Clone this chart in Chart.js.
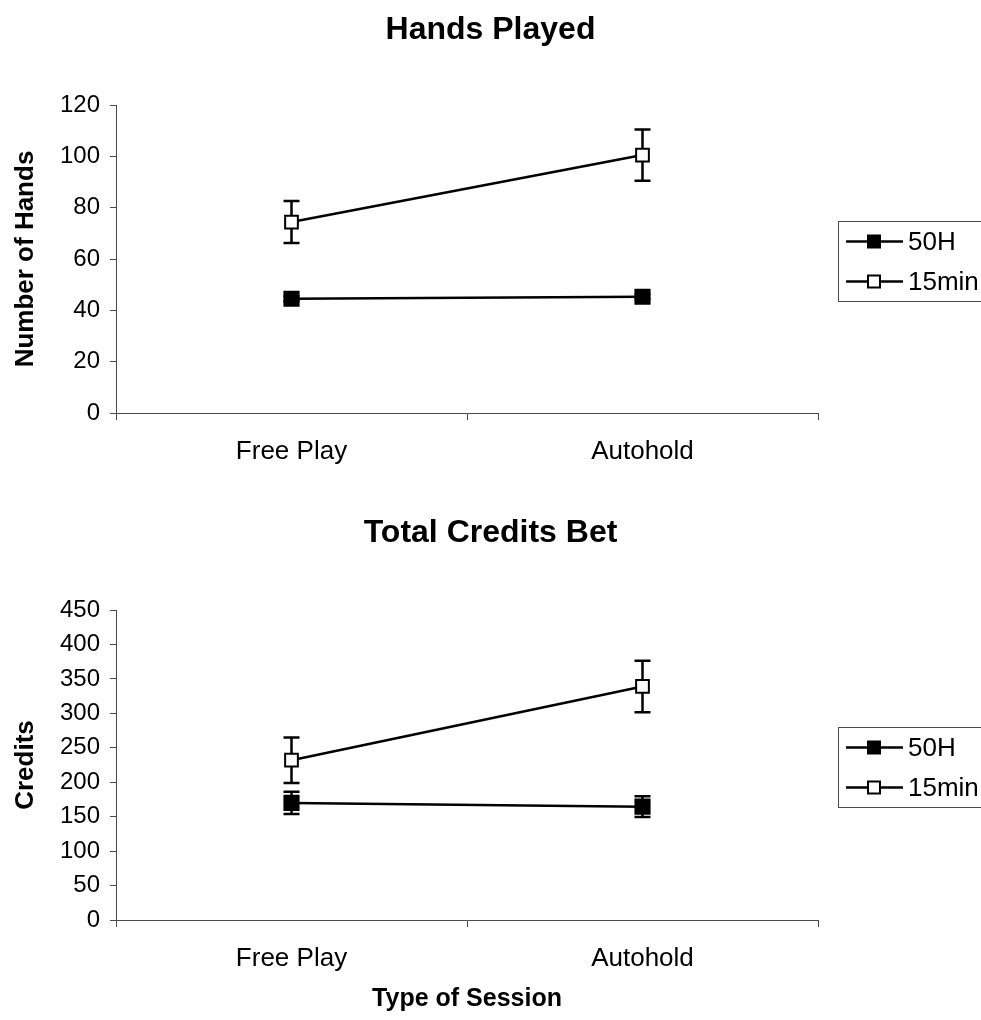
<!DOCTYPE html>
<html>
<head>
<meta charset="utf-8">
<title>Hands Played and Total Credits Bet</title>
<script src="https://cdn.jsdelivr.net/npm/chart.js@4.4.1/dist/chart.umd.min.js"></script>
<style>
  html, body { margin: 0; padding: 0; background: #fff; }
  #wrap { position: relative; width: 981px; height: 1020px; overflow: hidden; }
  canvas { position: absolute; left: 0; }
  #handsCanvas { top: 0; }
  #creditsCanvas { top: 500px; }
</style>
</head>
<body>
<div id="wrap">
  <canvas id="handsCanvas" width="981" height="500"></canvas>
  <canvas id="creditsCanvas" width="981" height="520"></canvas>
</div>
<script>
// Session types on the x axis
const sessions = ['Free Play', 'Autohold'];
const seriesNames = ['50H', '15min'];

// Hands played (means and error margins)
const hands50H = [44.5, 45.3];
const hands50HErr = [1, 1];
const hands15min = [74.4, 100.5];
const hands15minErr = [8.2, 10];

// Total credits bet (means and error margins)
const credits50H = [170, 164.5];
const credits50HErr = [16, 15];
const credits15min = [232, 339];
const credits15minErr = [33, 37.5];

// Axis ranges
const handsAxis = { min: 0, max: 120, step: 20 };
const creditsAxis = { min: 0, max: 450, step: 50 };

const FONT = '"Liberation Sans", Arial, Helvetica, sans-serif';
const AXIS_COLOR = '#4a4a4a';

// Vertical error bars with caps, drawn beneath the markers
const errorBars = {
  id: 'errorBars',
  beforeDatasetsDraw(chart) {
    const ctx = chart.ctx;
    const y = chart.scales.y;
    ctx.save();
    ctx.strokeStyle = '#000';
    ctx.lineWidth = 2.5;
    chart.data.datasets.forEach((ds, i) => {
      const meta = chart.getDatasetMeta(i);
      meta.data.forEach((pt, j) => {
        const e = ds.errors[j];
        if (!e) return;
        const top = y.getPixelForValue(ds.data[j] + e);
        const bot = y.getPixelForValue(ds.data[j] - e);
        const x = pt.x;
        ctx.beginPath();
        ctx.moveTo(x, top); ctx.lineTo(x, bot);
        ctx.moveTo(x - 8, top); ctx.lineTo(x + 8, top);
        ctx.moveTo(x - 8, bot); ctx.lineTo(x + 8, bot);
        ctx.stroke();
      });
    });
    ctx.restore();
  }
};

// Boxed legend placed to the right of the plot, centred on it vertically
const boxLegend = {
  id: 'boxLegend',
  afterDraw(chart) {
    const ctx = chart.ctx;
    const area = chart.chartArea;
    const mid = (area.top + area.bottom) / 2 + 2;
    const bx = 838.5, bw = 160, bh = 80;
    const by = Math.round(mid - bh / 2) + 0.5;
    ctx.save();
    ctx.strokeStyle = AXIS_COLOR;
    ctx.lineWidth = 1;
    ctx.strokeRect(bx, by, bw, bh);
    chart.data.datasets.forEach((ds, i) => {
      const cy = by + 20 + i * 40;
      ctx.strokeStyle = '#000';
      ctx.lineWidth = 2.5;
      ctx.beginPath();
      ctx.moveTo(846, cy); ctx.lineTo(903, cy);
      ctx.stroke();
      const s = 12;
      ctx.fillStyle = ds.pointBackgroundColor;
      ctx.fillRect(874 - s / 2, cy - s / 2, s, s);
      ctx.lineWidth = 2;
      ctx.strokeRect(874 - s / 2, cy - s / 2, s, s);
      ctx.fillStyle = '#000';
      ctx.font = '26px ' + FONT;
      ctx.textAlign = 'left';
      ctx.textBaseline = 'middle';
      ctx.fillText(ds.label, 908, cy + 1);
    });
    ctx.restore();
  }
};

function makeDataset(label, values, errors, fill, radius) {
  return {
    label: label,
    data: values,
    errors: errors,
    borderColor: '#000',
    borderWidth: 2.5,
    pointStyle: 'rect',
    pointRadius: radius,
    pointHoverRadius: radius,
    pointBorderWidth: 2,
    pointBackgroundColor: fill,
    pointBorderColor: '#000',
    tension: 0,
    fill: false
  };
}

function makeChart(canvasId, cfg) {
  return new Chart(document.getElementById(canvasId), {
    type: 'line',
    data: {
      labels: sessions,
      datasets: [
        makeDataset(seriesNames[0], cfg.s1, cfg.e1, '#000', 10),
        makeDataset(seriesNames[1], cfg.s2, cfg.e2, '#fff', 9)
      ]
    },
    options: {
      responsive: false,
      devicePixelRatio: 1,
      animation: false,
      events: [],
      layout: { padding: 0 },
      plugins: {
        legend: { display: false },
        tooltip: { enabled: false },
        title: {
          display: true,
          text: cfg.title,
          color: '#000',
          font: { family: FONT, size: 32, weight: 'bold' },
          padding: cfg.titlePad
        }
      },
      scales: {
        x: {
          type: 'category',
          offset: true,
          grid: {
            offset: true,
            drawOnChartArea: false,
            drawTicks: true,
            tickLength: 7,
            color: AXIS_COLOR
          },
          border: { color: AXIS_COLOR, width: 1 },
          ticks: {
            color: '#000',
            font: { family: FONT, size: 26 },
            padding: 16,
            maxRotation: 0
          },
          title: {
            display: !!cfg.xTitle,
            text: cfg.xTitle || '',
            color: '#000',
            font: { family: FONT, size: 25, weight: 'bold' },
            padding: { top: 0, bottom: 6 }
          },
          afterFit(s) { s.height = cfg.xHeight; }
        },
        y: {
          min: cfg.axis.min,
          max: cfg.axis.max,
          grid: {
            drawOnChartArea: false,
            drawTicks: true,
            tickLength: 6,
            color: AXIS_COLOR
          },
          border: { color: AXIS_COLOR, width: 1 },
          ticks: {
            stepSize: cfg.axis.step,
            color: '#000',
            font: { family: FONT, size: 24 },
            padding: 10
          },
          title: {
            display: true,
            text: cfg.yTitle,
            color: '#000',
            font: { family: FONT, size: 26, weight: 'bold' },
            padding: { top: 10, bottom: 0 }
          },
          afterFit(s) { s.width = 116; }
        },
        // empty strip on the right that holds the legend
        side: {
          type: 'linear',
          position: 'right',
          display: true,
          grid: { display: false },
          border: { display: false },
          ticks: { display: false },
          afterFit(s) { s.width = 163; }
        }
      }
    },
    plugins: [errorBars, boxLegend]
  });
}

makeChart('handsCanvas', {
  title: 'Hands Played',
  titlePad: { top: 11, bottom: 55.6 },
  yTitle: 'Number of Hands',
  axis: handsAxis,
  xHeight: 87,
  s1: hands50H, e1: hands50HErr,
  s2: hands15min, e2: hands15minErr
});

makeChart('creditsCanvas', {
  title: 'Total Credits Bet',
  titlePad: { top: 14, bottom: 57.6 },
  yTitle: 'Credits',
  xTitle: 'Type of Session',
  axis: creditsAxis,
  xHeight: 100,
  s1: credits50H, e1: credits50HErr,
  s2: credits15min, e2: credits15minErr
});
</script>
</body>
</html>
